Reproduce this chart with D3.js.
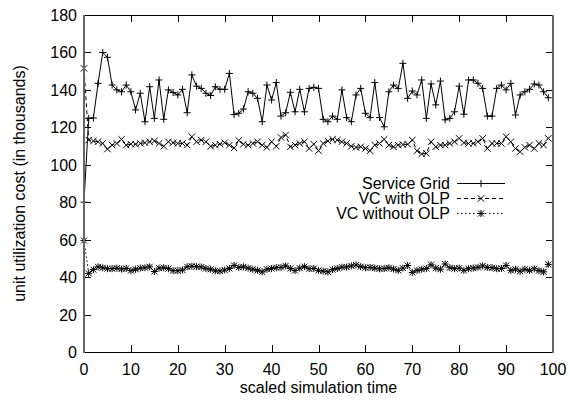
<!DOCTYPE html>
<html><head><meta charset="utf-8">
<script src="https://cdn.jsdelivr.net/npm/d3@7"></script>
<style>
body{margin:0;background:#fff;}
text{font-family:"Liberation Sans",Arial,Helvetica,sans-serif;}
</style></head>
<body><svg id="c" width="570" height="400"></svg>
<script>
const xTicks = [0,10,20,30,40,50,60,70,80,90,100];
const yTicks = [0,20,40,60,80,100,120,140,160,180];
const seriesNames = ["Service Grid","VC with OLP","VC without OLP"];

const serviceGrid = [80,124.8,125,143.5,160,157.4,142.6,140,139,142.6,
139,129.3,138.2,123,141.7,124.8,145.3,124.3,140,138.6,
137.3,140.3,127.8,148,142,140.8,138.2,137,141.7,140.3,
140.3,148.8,126.8,127.5,129.8,139,138.2,135.5,123,142.6,
134.6,143.9,126,127.8,138.7,128.3,140.3,128.3,140.8,141.4,
140.8,124.3,123,126,124.3,140,125.2,123,137.3,140.8,
127.5,125.2,143.9,125.2,120.3,139,142.6,140.8,154.2,135.5,
139.4,137.3,145.3,124.8,143.2,132,144.7,124,124.8,128.3,
142,127,145.3,145.3,143.5,140.8,126,126,140.8,142.6,
140,143.5,126.6,137.3,139,140.3,143.2,142.6,139,135.8];

const vcWithOLP = [151.5,113.2,112.7,112.3,111.4,108.4,110.5,111.4,113.6,110.5,
111,111,111.4,111.8,112.3,112.7,111.4,109.9,112.3,111.8,
111.4,111.4,110.5,115,112.3,113.2,112.3,109.9,110.5,111,
111.8,110.5,109,113,111,110.5,111.4,112.3,110.5,109.3,
112.3,109.9,114.6,115.9,109.6,110.5,111.4,112.3,108.7,111,
107.5,111.4,112.7,113.6,113.2,112.3,111.4,109.9,109.3,109.6,
108.7,107.5,110.5,111.4,113.6,110.5,109.6,110.5,110.8,111,
113.2,107.5,105.8,106.1,112.3,109.6,110.5,110.5,111.4,112.3,
114.1,111.8,111.4,111.4,112.3,114.1,108.7,111.4,111.4,111.4,
115,112.3,108.7,107,109.3,110.5,108.7,111.4,110.5,114.1];

const vcWithoutOLP = [59.5,42,44,45.5,45,44.5,44.5,44.8,44.3,44.6,
43.5,44.2,44.8,45,45.5,43,44.8,45,44.5,43.5,
43.4,43.8,45.5,45.8,45.6,45.4,44.6,44.2,43.4,43.2,
43.8,44.6,46.2,45.2,45.5,44.8,44.2,43.6,42.8,44.2,
44.6,45,45.2,46,44.6,43.5,44.8,45.6,44.5,44.6,
43.6,43.2,42.8,44,44.6,45.3,45.4,46,46.5,45.6,
45,45.2,44.8,44.4,44.6,45,44.3,43.6,44.8,46.2,
42.5,43.6,44.2,44.6,46.6,44.8,44.2,47,45,44.5,
44.8,43.6,44.5,44.8,45.2,46,45.2,45,44.5,44.6,
46.2,43.6,44.2,43.2,44.2,43.6,44.4,43.5,42.8,46.8];

const svg = d3.select("#c");
const L=84, R=553, T=15, B=352;
const x = d3.scaleLinear().domain([0,100]).range([L,R]);
const y = d3.scaleLinear().domain([0,180]).range([B,T]);

// ticks (mirror on all sides)
const tk = 7;
const g = svg.append("g").attr("stroke","#000").attr("stroke-width",1);
xTicks.forEach(v=>{
  const px = Math.round(x(v))+0.5;
  g.append("line").attr("x1",px).attr("x2",px).attr("y1",B).attr("y2",B-tk);
  g.append("line").attr("x1",px).attr("x2",px).attr("y1",T).attr("y2",T+tk);
});
yTicks.forEach(v=>{
  const py = Math.round(y(v))+0.5;
  g.append("line").attr("x1",L).attr("x2",L+tk).attr("y1",py).attr("y2",py);
  g.append("line").attr("x1",R).attr("x2",R-tk).attr("y1",py).attr("y2",py);
});

// tick labels
svg.append("g").selectAll("text").data(xTicks).join("text")
  .attr("x",d=>x(d)).attr("y",375).attr("text-anchor","middle")
  .attr("font-size",16).text(d=>d);
svg.append("g").selectAll("text").data(yTicks).join("text")
  .attr("x",77).attr("y",d=>y(d)+6).attr("text-anchor","end")
  .attr("font-size",16).text(d=>d);

// axis titles
svg.append("text").attr("x",(L+R)/2).attr("y",393).attr("text-anchor","middle")
  .attr("font-size",16).text("scaled simulation time");
svg.append("text").attr("transform",`translate(25,${(T+B)/2}) rotate(-90)`)
  .attr("text-anchor","middle").attr("font-size",16).text("unit utilization cost (in thousands)");

// markers
function plus(sel,cx,cy,s){
  sel.append("path").attr("d",`M${cx-s},${cy}H${cx+s}M${cx},${cy-s}V${cy+s}`);
}
function cross(sel,cx,cy,s){
  sel.append("path").attr("d",`M${cx-s},${cy-s}L${cx+s},${cy+s}M${cx-s},${cy+s}L${cx+s},${cy-s}`);
}
const styles = [
  {data:serviceGrid, dash:null, mk:(s,a,b)=>plus(s,a,b,3.5)},
  {data:vcWithOLP, dash:"4,3", mk:(s,a,b)=>cross(s,a,b,3.2)},
  {data:vcWithoutOLP, dash:"1.5,2.5", mk:(s,a,b)=>{plus(s,a,b,3.5);cross(s,a,b,3);}}
];
const line = d3.line().x((d,i)=>x(i)).y(d=>y(d));
const plot = svg.append("g");
styles.forEach(st=>{
  const gs = plot.append("g");
  gs.append("path").datum(st.data).attr("d",line).attr("fill","none")
    .attr("stroke","#000").attr("stroke-width",1).attr("stroke-dasharray",st.dash);
  const gm = gs.append("g").attr("stroke","#000").attr("stroke-width",1).attr("fill","none");
  st.data.forEach((v,i)=>st.mk(gm,x(i),y(v)));
});

// legend
const lg = svg.append("g");
const rows = [183,198,213];
seriesNames.forEach((n,i)=>{
  lg.append("text").attr("x",450).attr("y",rows[i]+6).attr("text-anchor","end")
    .attr("font-size",16).text(n);
  lg.append("line").attr("x1",457).attr("x2",505).attr("y1",rows[i]+0.5).attr("y2",rows[i]+0.5)
    .attr("stroke","#000").attr("stroke-dasharray",styles[i].dash);
  const gm = lg.append("g").attr("stroke","#000").attr("fill","none");
  styles[i].mk(gm,481,rows[i]+0.5);
});

// frame
svg.append("line").attr("x1",L).attr("x2",R).attr("y1",T+0.5).attr("y2",T+0.5).attr("stroke","#000");
svg.append("line").attr("x1",L).attr("x2",R).attr("y1",B+0.5).attr("y2",B+0.5).attr("stroke","#000");
svg.append("line").attr("x1",L).attr("x2",L).attr("y1",T).attr("y2",B+1).attr("stroke","#666").attr("stroke-width",2);
svg.append("line").attr("x1",R).attr("x2",R).attr("y1",T).attr("y2",B+1).attr("stroke","#666").attr("stroke-width",2);
</script></body></html>
